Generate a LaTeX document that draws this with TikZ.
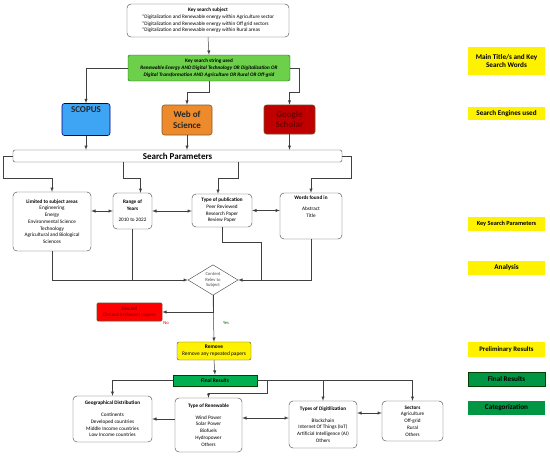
\documentclass[tikz,border=0pt]{standalone}
\usepackage{fontspec}
\setmainfont{Carlito}
\usetikzlibrary{calc,positioning,shapes.geometric}

\definecolor{scopusblue}{HTML}{3DA5F4}
\definecolor{wosorange}{HTML}{EC8A2C}
\definecolor{googlered}{HTML}{C00000}
\definecolor{stringgreen}{HTML}{6CD04A}
\definecolor{finalgreen}{HTML}{00B050}
\definecolor{linegray}{HTML}{404040}

\tikzset{
    rbox/.style={draw=black!75, rounded corners=4pt, fill=white, align=center,
        font=\fontsize{5.2}{6.7}\selectfont, inner sep=1pt},
    engine/.style={draw, rounded corners=2.5pt, align=center, line width=0.6pt,
        font=\fontsize{9}{10.5}\selectfont\bfseries},
    tag/.style={fill=yellow, align=center, minimum width=77pt, inner sep=1pt,
        font=\fontsize{7.2}{8.6}\selectfont\bfseries},
    link/.style={draw=linegray, line width=0.5pt},
    >=latex
}

\begin{document}
\begin{tikzpicture}[x=1pt,y=-1pt]
            \useasboundingbox (0,0) rectangle (550,456);
            % search subject and search string
            \node[rbox, minimum width=162pt, minimum height=33pt] (subject) at (208,20.5)
                {\begin{tabular}{@{}l@{}}
                \multicolumn{1}{@{}c@{}}{\textbf{Key search subject}}\\
                \mbox{*}Digitalization and Renewable energy within Agriculture sector\\
                \mbox{*}Digitalization and Renewable energy within Off grid sectors\\
                \mbox{*}Digitalization and Renewable energy within Rural areas
                \end{tabular}};
            \node[draw=green!40!black, fill=stringgreen, rounded corners=2pt, align=center,
                font=\fontsize{5.2}{6.7}\selectfont\bfseries, minimum width=162pt,
                minimum height=26pt, inner sep=1pt] (string) at (209,68)
                {Key search string used\\
                \itshape Renewable Energy AND Digital Technology OR Digitalization OR\\
                \itshape Digital Transformation AND Agriculture OR Rural OR Off-grid};
            % search engines
            \node[engine, fill=scopusblue, draw=blue!50!black, text=black!85,
                minimum width=48pt, minimum height=29pt] (scopus) at (86,119.5) {SCOPUS\\[9pt]};
            \node[engine, fill=wosorange, draw=brown!70!black, text=black!85,
                minimum width=50pt, minimum height=30pt] (wos) at (187,120) {Web of\\Science};
            \node[engine, fill=googlered, draw=brown!60!black, text=red!45!black,
                minimum width=51pt, minimum height=29pt] (google) at (289.5,119.5) {Google\\Scholar};
            \node[draw=black!75, rounded corners=2pt, fill=white, minimum width=329pt,
                minimum height=12pt, inner sep=0pt, font=\fontsize{9}{10}\selectfont\bfseries]
                (param) at (177.5,156) {Search Parameters};
            % key search parameters
            \node[rbox, minimum width=78pt, minimum height=59pt] (limited) at (52,221.5)
                {\textbf{Limited to subject areas}\\Engineering\\Energy\\Environmental Science\\
                Technology\\Agricultural and Biological\\Sciences};
            \node[rbox, minimum width=39pt, minimum height=36pt] (range) at (132.5,211)
                {\textbf{Range of}\\\textbf{Years}\\[5pt]2010 to 2022};
            \node[rbox, minimum width=60pt, minimum height=33pt] (pubtype) at (222,210.5)
                {\textbf{Type of publication}\\Peer Reviewed\\Research Paper\\Review Paper};
            \node[rbox, minimum width=62pt, minimum height=46pt] (words) at (311,216)
                {\textbf{Words found in}\\[5pt]Abstract\\Title\\[12pt]~};
            % analysis
            \node[diamond, draw=black!75, fill=white, aspect=1, minimum width=50pt,
                inner sep=0pt, align=center, text=black!70,
                font=\fontsize{4.6}{5.8}\selectfont] (relev) at (213,280)
                {Content\\Relev to\\Subject};
            \node[draw=brown!60!black, line width=0.6pt, fill=red, rounded corners=1pt,
                minimum width=65pt, minimum height=18pt, inner sep=0pt, align=center,
                text=red!50!black, font=\fontsize{5.2}{6.4}\selectfont] (discard) at (129.5,312)
                {\textbf{Discard}\\Discard irrelevant papers};
            \node[draw=black!70, fill=yellow, rounded corners=2pt, minimum width=74pt,
                minimum height=18pt, inner sep=0pt, align=center,
                font=\fontsize{5.4}{6.8}\selectfont] (remove) at (214,351)
                {\textbf{Remove}\\Remove any repeated papers};
            \node[text=red!80!black, font=\fontsize{4.6}{5}\selectfont] (no) at (166,323) {No};
            \node[text=green!45!black, font=\fontsize{4.6}{5}\selectfont] (yes) at (226,323) {Yes};
            % results and categories
            \node[draw=green!25!black, line width=0.6pt, fill=finalgreen, minimum width=84pt,
                minimum height=11pt, inner sep=0pt, font=\fontsize{5.4}{6}\selectfont\bfseries]
                (final) at (215,380.5) {Final Results};
            \node[rbox, minimum width=79pt, minimum height=46pt] (geo) at (112.5,419)
                {\textbf{Geographical Distribution}\\[5pt]Continents\\Developed countries\\
                Middle Income countries\\Low Income countries};
            \node[rbox, minimum width=67pt, minimum height=54pt] (renew) at (208.5,425)
                {\textbf{Type of Renewable}\\[5pt]Wind Power\\Solar Power\\Biofuels\\
                Hydropower\\Others};
            \node[rbox, minimum width=68pt, minimum height=47pt] (digit) at (323,424.5)
                {\textbf{Types of Digitilization}\\[5pt]Blockchain\\Internet Of Things (IoT)\\
                Artificial Intelligence (AI)\\Others};
            \node[rbox, minimum width=61pt, minimum height=40pt] (sector) at (412.5,421)
                {\textbf{Sectors}\\Agriculture\\Off-grid\\Rural\\Others};
            % stage tags on the right
            \node[tag, minimum height=28pt] (tagtitle) at (506.5,61) {Main Title/s and Key\\Search Words};
            \node[tag, minimum height=13pt] (tagengine) at (506.5,113.5) {Search Engines used};
            \node[tag, minimum height=14pt, font=\fontsize{6.3}{7.6}\selectfont\bfseries]
                (tagparam) at (506.5,224) {Key Search Parameters};
            \node[tag, minimum height=14pt] (taganalysis) at (506.5,268) {Analysis};
            \node[tag, minimum height=15pt, font=\fontsize{6.8}{8}\selectfont\bfseries]
                (tagprelim) at (506.5,349.5) {Preliminary Results};
            \node[tag, fill=finalgreen!85!black, draw=green!25!black, minimum height=14pt]
                (tagfinal) at (506.5,379) {Final Results};
            \node[tag, fill=finalgreen!85!black, minimum height=14pt]
                (tagcat) at (506.5,407.5) {Categorization};
            % connectors
            \draw[link,->] (subject.south) -- (string.north);
            \draw[link,->] (string.west) -| (scopus.north);
            \draw[link,->] (string.south) -- ++(0,11) -| (wos.north);
            \draw[link,->] (string.east) -- ++(9,0) -- ++(0,24) -| (google.north);
            \draw[link,->] (scopus.south) -- (scopus.south |- param.north);
            \draw[link,->] (wos.south) -- (wos.south |- param.north);
            \draw[link,->] (google.south) -- (google.south |- param.north);
            \draw[link,->] (param.west) -- ++(-10,0) -- ++(0,22) -| (limited.north);
            \draw[link,->] ($(param.south west)+(110,0)$) -- ++(0,16) -| ($(range.north)+(8,0)$);
            \draw[link,->] ($(param.south west)+(225,0)$) -- ++(0,16) -| ($(pubtype.north)+(-4,0)$);
            \draw[link,->] (param.east) -- ++(9,0) -- ++(0,22) -| (words.north);
            \draw[link,<->] (range.west) -- (range.west -| limited.east);
            \draw[link,<->] (range.east) -- (range.east -| pubtype.west);
            \draw[link,<->] (pubtype.east) -- (pubtype.east -| words.west);
            \draw[link,->] (limited.south) |- (relev.west);
            \draw[link] (range.south) -- (range.south |- relev.west);
            \draw[link,->] (words.south) |- (relev.east);
            \draw[link] (pubtype.south) -- ++(0,15) -| ($(relev.east)+(23,0)$);
            \draw[link,->] (relev.south) |- (discard.east);
            \draw[link,->] (relev.south) -- (remove.north);
            \draw[link,->] (remove.south) -- (final.north);
            \draw[link,->] (final.west) -| (geo.north);
            \draw[link,->] (final.east) -| (sector.north);
            \draw[link,->] (final.east -| digit.north) -- (digit.north);
            \draw[link,->] (final.east) -- ++(10,0) -- ++(0,12.5) -| (renew.north);
            \draw[link,->] (geo.east -| renew.west) -- (geo.east);
            \draw[link,<->] ($(renew.east)+(0,-7)$) -- ($(digit.west)+(0,-6.5)$);
            \draw[link,<->] ($(digit.east)+(0,-11.5)$) -- ($(sector.west)+(0,-8)$);
\end{tikzpicture}
\end{document}
